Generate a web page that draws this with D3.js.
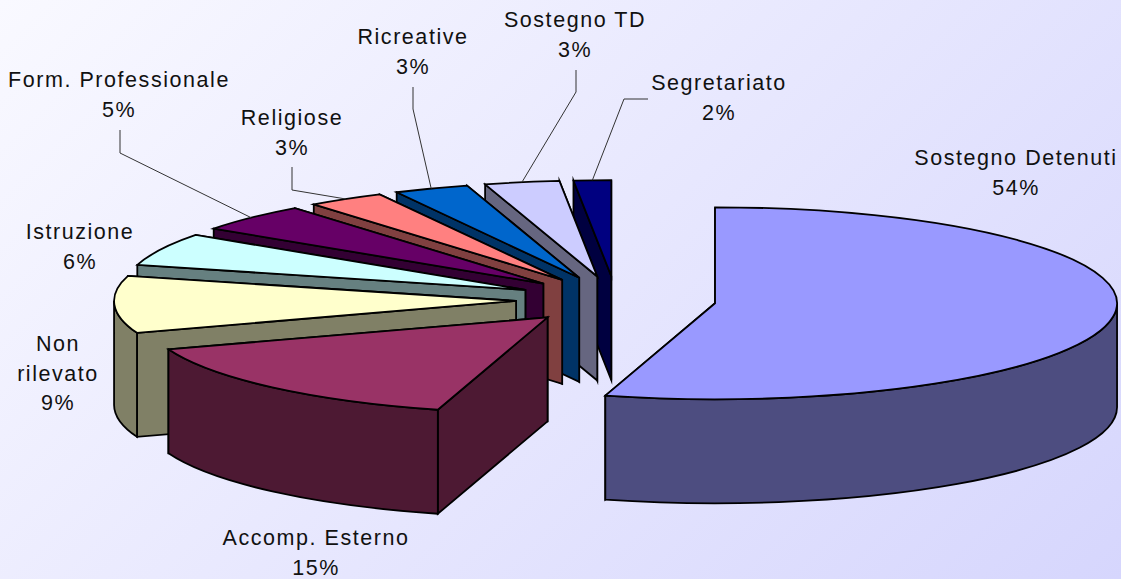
<!DOCTYPE html>
<html>
<head>
<meta charset="utf-8">
<script src="https://cdn.jsdelivr.net/npm/d3@7"></script>
<style>
html,body{margin:0;padding:0;background:#fff;}
svg{display:block;}
text{font-family:"Liberation Sans",Arial,sans-serif;font-size:21.5px;fill:#111;text-anchor:middle;letter-spacing:1.55px;}
</style>
</head>
<body>
<script>
// Data
const categories = ["Sostegno Detenuti","Accomp. Esterno","Non rilevato","Istruzione","Form. Professionale","Religiose","Ricreative","Sostegno TD","Segretariato"];
const values = [54.4,15.2,9.6,5.5,4.7,3.1,3,3,1.5];
const percentLabels = ["54%","15%","9%","6%","5%","3%","3%","3%","2%"];
const topColors = ["#9999ff","#993366","#ffffcc","#ccffff","#660066","#ff8080","#0066cc","#ccccff","#000080"];
const sideColors = ["#4d4d80","#4d1933","#808066","#668080","#330033","#804040","#003366","#666680","#000040"];

// Layout
const W = 1121, H = 579;
const base = {x:616, y:300}, rx = 402, ry = 96, depth = 104, explode = 100;
const labelLines = [["Sostegno Detenuti"],["Accomp. Esterno"],["Non","rilevato"],["Istruzione"],["Form. Professionale"],["Religiose"],["Ricreative"],["Sostegno TD"],["Segretariato"]];
const labelX = [1016,316,58,80,119,292,413,575,719];
const labelY = [165,545,351,239,87,125,44,27,90];
const lineStep = 29.5;
// leader polylines start at a label and end on the slice's rim (null: no leader)
const leaderStart = [null,null,null,null,[120,130],[292,167],[413,87],[576,70],[648,99]];
const leaderKnot  = [null,null,null,null,[120,153],[292,190],[413,109],[576,92],[624,99]];

const svg = d3.select("body").append("svg").attr("width",W).attr("height",H);
const grad = svg.append("defs").append("linearGradient").attr("id","bg")
  .attr("gradientUnits","userSpaceOnUse").attr("x1",0).attr("y1",0).attr("x2",850).attr("y2",850);
grad.append("stop").attr("offset",0).attr("stop-color","#f9f9ff");
grad.append("stop").attr("offset",1).attr("stop-color","#d6d6fd");
svg.append("rect").attr("width",W).attr("height",H).attr("fill","url(#bg)");

const pie = d3.pie().sort(null).value(d=>d).startAngle(0).endAngle(2*Math.PI);
const arcs = pie(values).map((a,i)=>{
  const mid=(a.startAngle+a.endAngle)/2;
  return {i,a0:a.startAngle,a1:a.endAngle,mid,
    cx:base.x+explode*Math.sin(mid),
    cy:base.y-explode*(ry/rx)*Math.cos(mid)};
});
const pt=(s,a,dy=0)=>[s.cx+rx*Math.sin(a), s.cy-ry*Math.cos(a)+dy];

function topPath(s){
  const b=pt(s,s.a0), e=pt(s,s.a1);
  return `M${s.cx},${s.cy}L${b[0]},${b[1]}A${rx},${ry} 0 ${s.a1-s.a0>Math.PI?1:0} 1 ${e[0]},${e[1]}Z`;
}
function radialPath(s,a){
  const e=pt(s,a);
  return `M${s.cx},${s.cy}L${e[0]},${e[1]}L${e[0]},${e[1]+depth}L${s.cx},${s.cy+depth}Z`;
}
function rimPath(s){
  const from=Math.max(s.a0,Math.PI/2), to=Math.min(s.a1,1.5*Math.PI);
  if(to<=from) return null;
  const b=pt(s,from), e=pt(s,to), b2=pt(s,from,depth), e2=pt(s,to,depth);
  return `M${b[0]},${b[1]}A${rx},${ry} 0 0 1 ${e[0]},${e[1]}L${e2[0]},${e2[1]}A${rx},${ry} 0 0 0 ${b2[0]},${b2[1]}Z`;
}

const order=arcs.slice().sort((p,q)=>p.cy-q.cy);
const g=svg.selectAll("g.slice").data(order).join("g").attr("class","slice")
  .attr("stroke","#000").attr("stroke-width",1.8).attr("stroke-linejoin","miter").attr("stroke-miterlimit",6);
g.append("path").attr("d",s=>radialPath(s,s.a1)).attr("fill",s=>sideColors[s.i]);
g.append("path").attr("d",s=>radialPath(s,s.a0)).attr("fill",s=>sideColors[s.i]);
g.filter(s=>rimPath(s)).append("path").attr("d",rimPath).attr("fill",s=>sideColors[s.i]);
g.append("path").attr("d",topPath).attr("fill",s=>topColors[s.i]);

// leader lines
svg.selectAll("path.leader").data(arcs.filter(s=>leaderStart[s.i])).join("path").attr("class","leader")
  .attr("fill","none").attr("stroke","#333").attr("stroke-width",1)
  .attr("d",s=>d3.line()([leaderStart[s.i],leaderKnot[s.i],pt(s,s.mid)]));

// labels
const lab=svg.selectAll("text").data(categories).join("text")
  .attr("x",(d,i)=>labelX[i]).attr("y",(d,i)=>labelY[i]);
lab.each(function(d,i){
  const t=d3.select(this);
  labelLines[i].concat(percentLabels[i]).forEach((line,k)=>{
    t.append("tspan").attr("x",labelX[i]).attr("y",labelY[i]+k*lineStep).text(line);
  });
});
</script>
</body>
</html>
